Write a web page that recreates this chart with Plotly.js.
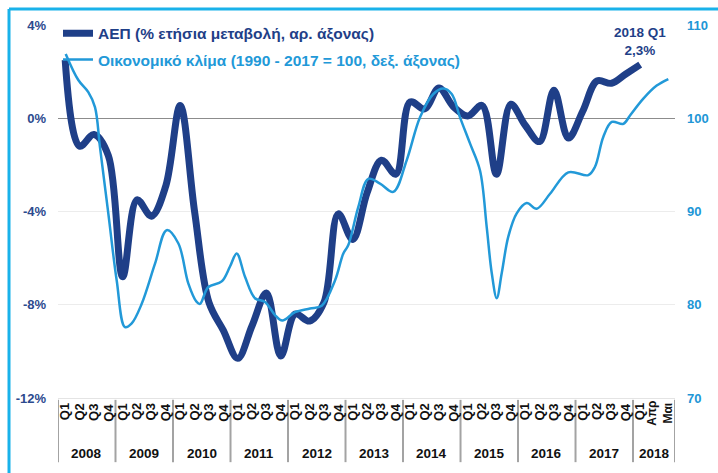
<!DOCTYPE html>
<html>
<head>
<meta charset="utf-8">
<script src="https://cdn.plot.ly/plotly-3.0.1.min.js"></script>
<style>html,body{margin:0;padding:0;background:#fff}#chart{width:718px;height:473px}</style>
</head>
<body>
<div id="chart"></div>
<script>
// ---- data ----
const years = [2008, 2009, 2010, 2011, 2012, 2013, 2014, 2015, 2016, 2017, 2018];
const quarterLabels = ['Q1', 'Q2', 'Q3', 'Q4'];
const lastLabel = 'Απρ<br>Μαι';
// GDP, % yoy change, quarterly 2008Q1 .. 2018Q1
const gdp = [
  2.5, -1.2, -0.7, -1.6,
  -6.8, -3.5, -4.2, -2.9,
  0.55, -4.0, -7.9, -9.1,
  -10.3, -8.9, -7.5, -10.2,
  -8.4, -8.7, -7.9, -4.1,
  -5.2, -3.2, -1.8, -2.4,
  0.7, 0.4, 1.3, 0.5,
  0.1, 0.55, -2.4, 0.6,
  -0.3, -1.0, 1.2, -0.85,
  0.3, 1.6, 1.5, 1.9,
  2.3
];
// Economic sentiment (1990-2017 = 100) (time in decimal years)
const climateTime = [
  2008.134, 2008.353, 2008.527, 2008.643, 2008.730, 2008.875, 2009.021, 2009.165, 2009.282, 2009.456,
  2009.687, 2009.890, 2010.092, 2010.266, 2010.412, 2010.470, 2010.614, 2010.847, 2010.991, 2011.108,
  2011.252, 2011.426, 2011.600, 2011.774, 2011.901, 2012.122, 2012.383, 2012.586, 2012.817, 2012.962,
  2013.049, 2013.223, 2013.397, 2013.600, 2013.831, 2014.064, 2014.296, 2014.527, 2014.701, 2014.847,
  2014.991, 2015.165, 2015.339, 2015.456, 2015.543, 2015.630, 2015.717, 2015.831, 2015.977, 2016.151,
  2016.325, 2016.557, 2016.875, 2017.222, 2017.339, 2017.483, 2017.630, 2017.831, 2017.948, 2018.179,
  2018.412, 2018.614
];
const climate = [
  106.9, 104.1, 102.8, 101.2, 96.9, 89.8, 82.6, 77.6, 78.0, 80.1,
  84.4, 88.0, 86.6, 82.3, 80.3, 80.1, 81.9, 82.5, 84.1, 85.5,
  83.0, 80.7, 80.3, 78.9, 78.3, 79.2, 79.6, 79.9, 82.6, 85.5,
  86.4, 90.5, 93.5, 93.0, 92.1, 95.5, 100.1, 102.6, 103.2, 102.6,
  100.1, 97.3, 94.4, 88.3, 83.4, 80.7, 83.4, 87.3, 89.8, 90.9,
  90.3, 91.9, 94.2, 93.9, 94.8, 98.0, 99.6, 99.4, 100.3, 102.1,
  103.5, 104.2
];
const leftTicks = [-12, -8, -4, 0, 4];
const leftTickText = ['-12%', '-8%', '-4%', '0%', '4%'];
const rightTicks = [70, 80, 90, 100, 110];
const gdpName = 'ΑΕΠ (% ετήσια μεταβολή, αρ. άξονας)';
const climateName = 'Οικονομικό κλίμα (1990 - 2017 = 100, δεξ. άξονας)';
const calloutText = '2018 Q1<br>2,3%';

// ---- derived ----
const navy = '#1f3f88';
const sky = '#2299d8';
const FAM = 'Arial, Liberation Sans, sans-serif';
const xEnd = 2018.73;
const gdpX = gdp.map((_, i) => years[0] + (i + 0.5) / 4);

const traces = [
  {
    x: gdpX, y: gdp, type: 'scatter', mode: 'lines', name: gdpName,
    legendgroup: 'a',
    line: {color: navy, width: 7, shape: 'spline', smoothing: 1}, yaxis: 'y'
  },
  {
    x: climateTime, y: climate, type: 'scatter', mode: 'lines',
    name: '<span style="color:' + sky + '">' + climateName + '</span>',
    legendgroup: 'b',
    line: {color: sky, width: 2.5, shape: 'spline', smoothing: 1}, yaxis: 'y2'
  }
];

const annotations = [];
const shapes = [];
const axisFont = {family: FAM, size: 13, color: '#111', weight: 'bold'};
gdpX.forEach((x, i) => {
  annotations.push({
    x: x, xref: 'x', y: -0.012, yref: 'paper', text: quarterLabels[i % 4],
    showarrow: false, textangle: -90, xanchor: 'center', yanchor: 'top',
    font: axisFont, borderpad: 0
  });
});
annotations.push({
  x: 2018.47, xref: 'x', y: -0.006, yref: 'paper', text: lastLabel,
  showarrow: false, textangle: -90, xanchor: 'center', yanchor: 'top',
  font: Object.assign({}, axisFont, {size: 12}), borderpad: 0
});
const bounds = years.concat([xEnd]);
years.forEach((yr, k) => {
  annotations.push({
    x: (bounds[k] + bounds[k + 1]) / 2, xref: 'x', y: -0.150, yref: 'paper', text: String(yr),
    showarrow: false, xanchor: 'center', yanchor: 'middle',
    font: Object.assign({}, axisFont, {size: 13.5})
  });
});
bounds.forEach(b => {
  shapes.push({type: 'line', xref: 'x', yref: 'paper', x0: b, x1: b, y0: -0.005, y1: -0.172,
    line: {color: '#a3a3a3', width: 2}});
});
annotations.push({
  x: gdpX[gdpX.length - 1], xref: 'x', y: gdp[gdp.length - 1], yref: 'y', text: calloutText,
  showarrow: false, xanchor: 'center', yanchor: 'bottom', yshift: 5,
  font: {family: FAM, size: 13.5, color: navy, weight: 'bold'}
});
// outer frame (top and left edges visible)
shapes.push({type: 'line', xref: 'paper', yref: 'paper', x0: -0.0794, x1: 1.2, y0: 1.0429, y1: 1.0429,
  line: {color: '#19b2ea', width: 3}});
shapes.push({type: 'line', xref: 'paper', yref: 'paper', x0: -0.0794, x1: -0.0794, y0: 1.0429, y1: -0.4,
  line: {color: '#19b2ea', width: 3}});

const layout = {
  width: 718, height: 473,
  margin: {l: 58, r: 43, t: 25, b: 75, pad: 0},
  paper_bgcolor: '#fff', plot_bgcolor: '#fff',
  font: {family: FAM},
  showlegend: true,
  legend: {
    x: 0.0, y: 1.022, xanchor: 'left', yanchor: 'top',
    bgcolor: 'rgba(0,0,0,0)', borderwidth: 0, tracegroupgap: 3,
    font: {family: FAM, size: 15.5, color: navy, weight: 'bold'}
  },
  xaxis: {
    type: 'linear', range: [years[0], xEnd], showticklabels: false, showgrid: false,
    zeroline: false, ticks: '', showline: true, linecolor: '#e4e4e4', linewidth: 1, fixedrange: true
  },
  yaxis: {
    range: [-12, 4], tickvals: leftTicks, ticktext: leftTickText, ticks: '',
    tickfont: {family: FAM, size: 13, color: '#2c4a8e', weight: 'bold'},
    showgrid: true, gridcolor: '#ececec', gridwidth: 1,
    zeroline: true, zerolinecolor: '#8c8c8c', zerolinewidth: 1.5,
    ticklabelstandoff: 11, fixedrange: true
  },
  yaxis2: {
    range: [70, 110], tickvals: rightTicks, overlaying: 'y', side: 'right', ticks: '',
    tickfont: {family: FAM, size: 13, color: '#2196d6', weight: 'bold'},
    showgrid: false, zeroline: false, ticklabelstandoff: 11, fixedrange: true
  },
  annotations: annotations,
  shapes: shapes
};

Plotly.newPlot('chart', traces, layout, {displayModeBar: false, staticPlot: true});
</script>
</body>
</html>
